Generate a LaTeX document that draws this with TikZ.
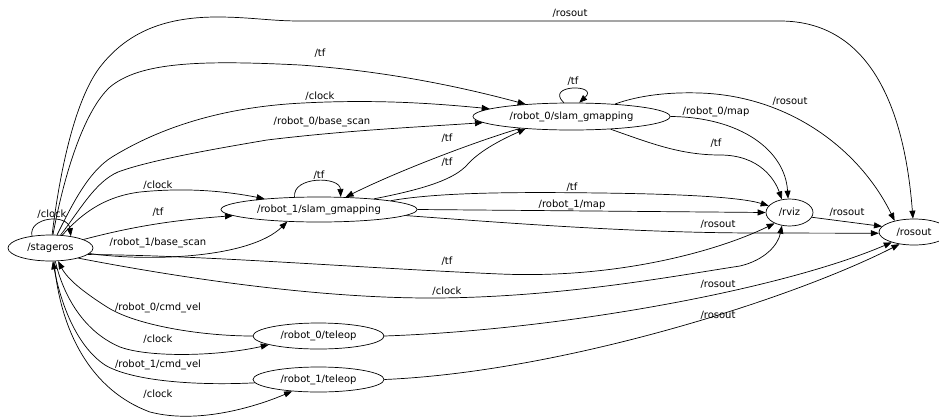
\documentclass[tikz,border=0pt]{standalone}
\usepackage{fontspec}
\setmainfont{DejaVu Sans}
\usetikzlibrary{shapes.geometric,arrows.meta}
\tikzset{
  nd/.style={draw, ellipse, inner sep=0pt, line width=0.7pt, font=\fontsize{10}{12}\selectfont},
  lbl/.style={inner sep=0pt, font=\fontsize{10}{12}\selectfont},
  edge/.style={draw, line width=0.7pt, -{Triangle[length=8pt,width=6pt]}},
}
\begin{document}
\begin{tikzpicture}[x=1pt,y=-1pt]
\useasboundingbox (0,0) rectangle (939,418);
% nodes
\node[nd, minimum width=85pt, minimum height=26pt] (stageros) at (50.5,248) {/stageros};
\node[nd, minimum width=197pt, minimum height=27pt] (slam0) at (571.5,116.5) {/robot\_0/slam\_gmapping};
\node[nd, minimum width=196pt, minimum height=25pt] (slam1) at (319,209.5) {/robot\_1/slam\_gmapping};
\node[nd, minimum width=47pt, minimum height=27pt] (rviz) at (789.5,212.5) {/rviz};
\node[nd, minimum width=70pt, minimum height=26pt] (rosout) at (914,232) {/rosout};
\node[nd, minimum width=131pt, minimum height=26pt] (teleop0) at (318.5,336) {/robot\_0/teleop};
\node[nd, minimum width=131pt, minimum height=25pt] (teleop1) at (318.5,379.5) {/robot\_1/teleop};
% edges
\draw[edge] (stageros) .. controls (60,170) and (75,100) .. (100,67) .. controls (125,35) and (160,17) .. (217,17) .. controls (250,17) and (270,21) .. (300,21) -- (780,21) .. controls (860,21) and (903,90) .. (rosout);
\draw[edge] (stageros) .. controls (65,170) and (85,110) .. (110,87) .. controls (140,62) and (200,60) .. (300,65) .. controls (400,72) and (480,92) .. (slam0);
\draw[edge] (stageros) .. controls (72,205) and (88,172) .. (112,157) .. controls (140,140) and (200,108) .. (303,103) .. controls (380,99) and (440,104) .. (slam0);
\draw[edge] (stageros) .. controls (80,210) and (95,182) .. (118,172) .. controls (150,160) and (220,148) .. (267,140) .. controls (350,130) and (420,127) .. (slam0);
\draw[edge] (stageros.147) .. controls (28,217) and (68,213) .. (stageros.30);
\draw[edge] (stageros) .. controls (78,218) and (100,197) .. (140,192) .. controls (190,187) and (230,192) .. (slam1);
\draw[edge] (stageros) .. controls (120,230) and (160,221) .. (slam1);
\draw[edge] (stageros) .. controls (150,262) and (250,258) .. (slam1.201);
\draw[edge] (stageros.350) .. controls (200,255) and (360,268) .. (500,274) .. controls (620,279) and (720,250) .. (rviz.216);
\draw[edge] (stageros.340) .. controls (150,272) and (300,298) .. (430,298) .. controls (560,298) and (680,275) .. (740,266) .. controls (765,260) and (778,245) .. (rviz.240);
\draw[edge] (teleop0.180) .. controls (200,336) and (135,325) .. (107,307) .. controls (85,293) and (68,280) .. (stageros.300);
\draw[edge] (stageros.290) .. controls (62,290) and (80,330) .. (120,347) .. controls (150,358) and (220,356) .. (teleop0.190);
\draw[edge] (teleop1.183) .. controls (190,386) and (130,380) .. (105,365) .. controls (75,345) and (60,300) .. (stageros.280);
\draw[edge] (stageros.285) .. controls (60,330) and (90,390) .. (150,412) .. controls (200,425) and (260,405) .. (teleop1.204);
\draw[edge] (slam0.119) .. controls (544,84) and (600,84) .. (slam0.61);
\draw[edge] (slam0.0) .. controls (740,117) and (785,150) .. (rviz.96);
\draw[edge] (slam0.342) .. controls (650,143) and (680,155) .. (720,155) .. controls (760,155) and (775,180) .. (rviz.120);
\draw[edge] (slam0.16) .. controls (640,95) and (670,92) .. (700,93) .. controls (790,96) and (860,150) .. (rosout.150);
\draw[edge] (slam0.193) .. controls (480,140) and (400,170) .. (slam1.25);
\draw[edge] (slam1.11) .. controls (430,188) and (455,178) .. (467,165) .. controls (480,150) and (505,138) .. (slam0.195);
\draw[edge] (slam1.153) .. controls (292,176) and (340,176) .. (slam1.30);
\draw[edge] (slam1.7) .. controls (440,192) and (520,192) .. (600,193) .. controls (680,194) and (740,197) .. (rviz.162);
\draw[edge] (slam1.east) -- (rviz.west);
\draw[edge] (slam1.356) .. controls (520,224) and (640,233) .. (760,233) -- (rosout.182);
\draw[edge] (rviz.348) -- (rosout.170);
\draw[edge] (teleop0.east) .. controls (560,330) and (780,290) .. (rosout.205);
\draw[edge] (teleop1.east) .. controls (560,372) and (790,300) .. (rosout.220);
% labels
\node[lbl] (l1) at (570,13) {/rosout};
\node[lbl] (l2) at (320,53) {/tf};
\node[lbl] (l3) at (320,96) {/clock};
\node[lbl] (l4) at (322,122) {/robot\_0/base\_scan};
\node[lbl] (l5) at (573,81) {/tf};
\node[lbl] (l6) at (716,112) {/robot\_0/map};
\node[lbl] (l7) at (790,101) {/rosout};
\node[lbl] (l8) at (716,143) {/tf};
\node[lbl] (l9) at (447,138) {/tf};
\node[lbl] (l10) at (447,162) {/tf};
\node[lbl] (l11) at (158,185) {/clock};
\node[lbl] (l12) at (319,175) {/tf};
\node[lbl] (l13) at (52,214) {/clock};
\node[lbl] (l14) at (158,212) {/tf};
\node[lbl] (l15) at (158,243) {/robot\_1/base\_scan};
\node[lbl] (l16) at (572,187) {/tf};
\node[lbl] (l17) at (572,205) {/robot\_1/map};
\node[lbl] (l18) at (718,224) {/rosout};
\node[lbl] (l19) at (847,212) {/rosout};
\node[lbl] (l20) at (447,261) {/tf};
\node[lbl] (l21) at (447,291) {/clock};
\node[lbl] (l22) at (718,284) {/rosout};
\node[lbl] (l23) at (158,308) {/robot\_0/cmd\_vel};
\node[lbl] (l24) at (158,339) {/clock};
\node[lbl] (l25) at (718,315) {/rosout};
\node[lbl] (l26) at (158,365) {/robot\_1/cmd\_vel};
\node[lbl] (l27) at (158,394) {/clock};
\end{tikzpicture}
\end{document}
